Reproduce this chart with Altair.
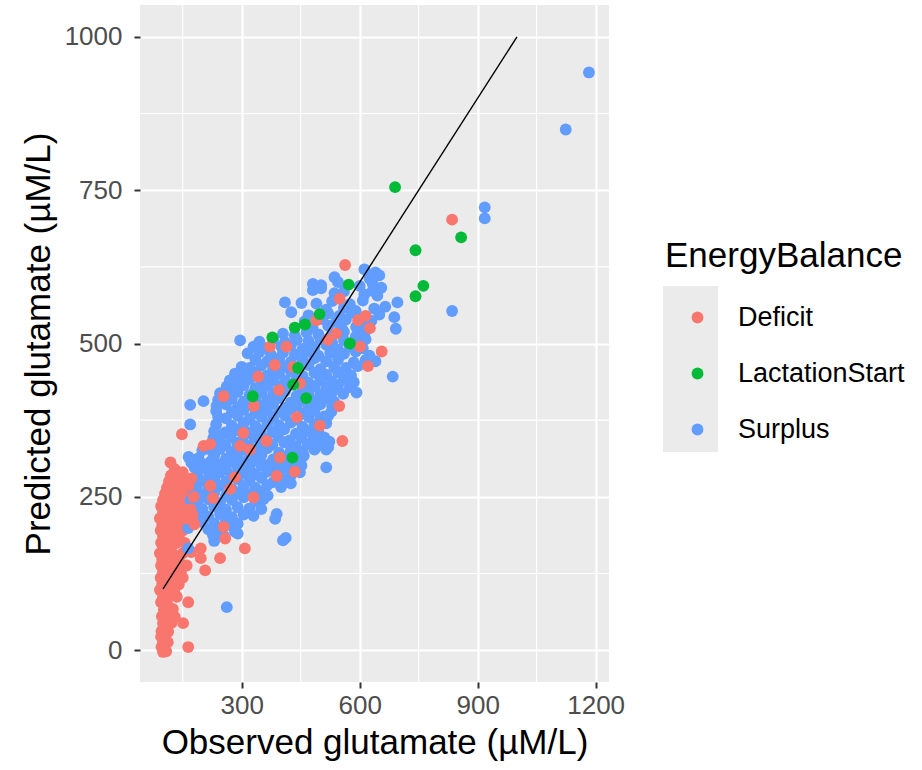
import altair as alt
import pandas as pd

# ---- data (observed, predicted) ----
deficit_cluster = [
    (100, -3), (108, -2), (96, 5), (164, 5), (100, 12), (112, 13), (105, 21), (95, 22), (96, 31), (113, 30),
    (100, 44), (121, 44), (151, 44), (97, 55), (115, 56), (130, 54), (102, 66), (125, 67), (95, 78), (110, 77),
    (164, 78), (100, 88), (118, 89), (135, 87), (92, 98), (108, 99), (128, 97), (98, 108), (115, 109), (140, 107),
    (94, 118), (112, 119), (130, 117), (150, 118), (100, 128), (120, 129), (145, 127), (207, 130),
    (95, 138), (110, 139), (130, 137), (160, 138), (98, 148), (118, 149), (140, 147), (196, 150), (245, 150),
    (92, 158), (108, 159), (125, 157), (150, 158), (172, 160), (100, 166), (120, 167), (196, 166),
    (95, 175), (112, 176), (132, 174), (155, 175), (100, 185), (118, 186), (140, 184),
    (94, 195), (110, 196), (128, 194), (150, 195), (98, 205), (115, 206), (135, 204), (160, 205),
    (92, 215), (108, 216), (125, 214), (145, 215), (100, 225), (118, 226), (138, 224), (165, 225),
    (95, 235), (112, 236), (130, 234), (150, 235), (100, 245), (120, 246), (140, 244), (170, 245),
    (105, 255), (125, 256), (150, 254), (110, 265), (132, 266), (152, 264), (115, 275), (140, 276), (160, 274),
    (120, 285), (145, 286), (130, 295), (119, 306), (148, 352),
]

deficit_scatter = [
    (835, 702), (563, 628), (549, 573), (596, 538), (626, 525), (601, 495), (656, 487), (621, 463),
    (548, 398), (556, 341), (499, 366), (440, 380), (395, 424), (397, 314), (435, 291), (372, 495),
    (384, 465), (342, 446), (331, 398), (254, 414), (490, 538), (431, 462), (448, 435), (540, 516),
    (414, 495), (304, 354), (296, 333), (321, 327), (363, 341), (389, 284), (330, 249), (271, 263),
    (220, 268), (203, 333), (220, 336), (308, 166), (258, 182), (254, 201), (615, 545), (227, 248),
    (283, 282), (519, 506),
    (160, 215), (170, 230), (178, 250), (165, 268), (172, 280), (150, 290), (180, 205), (175, 220),
]

surplus = [
    (612, 621), (640, 616), (536, 608), (625, 606), (650, 611),
    (481, 597), (502, 595), (545, 600), (600, 594), (633, 598),
    (481, 587), (502, 590), (633, 586), (655, 591),
    (536, 582), (560, 585), (612, 580), (645, 578),
    (410, 567), (452, 566), (490, 565), (530, 569), (575, 564), (608, 570), (696, 567),
    (515, 555), (560, 558), (590, 553), (637, 557), (665, 560),
    (426, 551), (470, 546), (520, 549), (548, 545), (580, 550), (616, 543), (650, 547),
    (460, 536), (505, 540), (540, 535), (565, 539), (600, 533), (630, 537), (688, 543),
    (480, 526), (520, 529), (555, 524), (591, 527), (620, 530), (692, 524),
    (405, 516), (435, 513), (465, 518), (495, 515), (527, 512), (560, 519), (590, 511), (612, 516),
    (296, 505), (345, 503), (380, 507), (410, 502), (440, 506), (470, 504), (500, 508), (530, 501),
    (560, 505), (590, 503), (615, 507),
    (330, 495), (360, 492), (401, 495), (425, 497), (455, 491), (485, 494), (515, 498), (545, 490),
    (575, 495), (608, 492),
    (315, 484), (345, 486), (375, 481), (405, 485), (435, 482), (465, 487), (495, 480), (525, 485),
    (560, 483), (590, 487), (625, 480),
    (335, 474), (365, 471), (395, 475), (425, 470), (455, 473), (485, 476), (515, 471), (545, 474),
    (585, 469), (615, 473), (640, 471),
    (300, 462), (320, 460), (350, 464), (380, 459), (412, 463), (440, 461), (470, 465), (500, 458),
    (535, 462), (565, 460), (595, 463),
    (283, 451), (305, 449), (335, 453), (365, 448), (395, 451), (425, 454), (455, 447), (485, 452),
    (515, 449), (545, 453), (578, 448), (684, 446),
    (270, 440), (292, 438), (320, 442), (350, 437), (380, 441), (410, 439), (440, 443), (470, 436),
    (500, 440), (530, 438), (560, 442), (585, 437),
    (262, 430), (280, 428), (305, 432), (335, 427), (365, 431), (395, 429), (425, 433), (455, 426),
    (485, 430), (515, 428), (545, 432), (575, 429), (592, 420),
    (245, 419), (262, 417), (290, 421), (320, 416), (350, 420), (380, 418), (410, 422), (440, 415),
    (470, 419), (500, 417), (530, 421), (558, 418),
    (203, 406), (240, 408), (275, 410), (305, 405), (335, 409), (365, 407), (395, 411), (425, 404),
    (455, 408), (485, 406), (515, 410), (535, 405),
    (169, 400), (236, 398), (260, 401), (290, 396), (320, 400), (350, 398), (380, 402), (410, 395),
    (440, 399), (470, 397), (500, 401), (530, 398),
    (235, 390), (275, 388), (305, 392), (335, 387), (365, 391), (395, 389), (425, 393), (455, 386),
    (485, 390), (510, 381), (528, 389),
    (240, 380), (260, 378), (290, 382), (320, 377), (350, 381), (380, 379), (410, 383), (440, 376),
    (470, 380), (500, 378), (520, 382),
    (169, 368), (235, 368), (275, 366), (305, 370), (335, 365), (365, 369), (395, 367), (425, 371),
    (455, 364), (485, 368), (515, 370),
    (230, 357), (258, 355), (288, 359), (318, 354), (348, 358), (378, 356), (408, 360), (438, 353),
    (468, 357), (495, 355),
    (228, 346), (243, 344), (272, 348), (302, 343), (332, 347), (362, 345), (392, 349), (422, 342),
    (452, 346), (482, 344), (510, 347), (523, 340),
    (225, 336), (258, 334), (288, 338), (318, 333), (348, 337), (378, 335), (408, 339), (438, 332),
    (468, 336), (498, 334), (520, 331),
    (200, 326), (225, 324), (245, 328), (275, 323), (305, 327), (335, 325), (365, 329), (395, 322),
    (425, 326), (455, 324), (485, 327), (515, 327),
    (165, 315), (190, 313), (230, 317), (260, 312), (290, 316), (320, 314), (350, 318), (380, 311),
    (410, 315), (440, 313), (458, 317),
    (172, 306), (200, 304), (222, 308), (245, 303), (275, 307), (305, 305), (335, 309), (365, 302),
    (395, 306), (425, 304), (452, 301),
    (180, 298), (210, 296), (232, 300), (260, 295), (290, 299), (320, 297), (350, 301), (380, 294),
    (410, 298), (440, 296), (515, 298),
    (188, 288), (218, 286), (245, 290), (275, 285), (305, 289), (335, 287), (365, 291), (395, 288),
    (425, 285), (448, 290),
    (178, 278), (200, 276), (230, 280), (260, 275), (290, 279), (320, 277), (350, 281), (380, 274),
    (410, 278), (425, 272),
    (185, 266), (215, 264), (245, 268), (275, 263), (305, 267), (335, 265), (365, 269), (400, 266),
    (178, 255), (200, 253), (230, 257), (260, 252), (290, 256), (320, 254), (350, 258), (366, 252),
    (170, 244), (188, 242), (215, 246), (245, 241), (275, 245), (305, 249), (335, 243), (355, 246),
    (180, 232), (200, 230), (230, 234), (260, 229), (290, 233), (320, 231), (350, 230), (389, 222),
    (190, 220), (215, 218), (245, 222), (275, 217), (305, 221), (330, 219), (385, 214),
    (200, 209), (230, 207), (260, 211), (290, 206), (270, 204),
    (164, 199), (215, 197), (245, 199), (283, 193), (227, 188),
    (255, 186), (290, 190), (412, 183), (405, 179),
    (230, 178), (228, 187), (164, 166), (262, 70),
    (835, 553), (918, 722), (918, 704), (1124, 849), (1183, 942),
]

lactation = [
    (690, 755), (858, 673), (742, 652), (762, 594), (742, 577), (572, 596), (498, 548), (435, 526),
    (461, 531), (378, 510), (328, 414), (429, 314), (443, 460), (575, 500), (431, 433), (464, 411),
]

groups = ["Deficit", "LactationStart", "Surplus"]
colors = ["#F8766D", "#00BA38", "#619CFF"]

x_ticks = [300, 600, 900, 1200]
y_ticks = [0, 250, 500, 750, 1000]
x_minor = [150, 450, 750, 1050]
y_minor = [125, 375, 625, 875]
identity_line = [100, 1000]

rows = []
for grp, pts in [("Deficit", deficit_cluster), ("Surplus", surplus),
                 ("Deficit", deficit_scatter), ("LactationStart", lactation)]:
    for o, p in pts:
        rows.append({"obs": o, "pred": p, "EnergyBalance": grp})
df = pd.DataFrame(rows)

line_df = pd.DataFrame({"obs": identity_line, "pred": identity_line})

FONT = "Liberation Sans"

xscale = alt.Scale(domain=[41.4, 1234], nice=False, zero=False)
yscale = alt.Scale(domain=[-52, 1052], nice=False, zero=False)

xaxis = alt.Axis(values=x_ticks, format="d", title="Observed glutamate (µM/L)", grid=True,
                 gridColor="white", gridWidth=2.2, domain=False,
                 tickColor="#333333", tickWidth=2, tickSize=6,
                 labelFontSize=26, labelColor="#4D4D4D", labelPadding=4,
                 titleFontSize=35, titleColor="black", titleFontWeight="normal",
                 titlePadding=7, labelFont=FONT, titleFont=FONT)
yaxis = alt.Axis(values=y_ticks, format="d", title="Predicted glutamate (µM/L)", grid=True,
                 gridColor="white", gridWidth=2.2, domain=False,
                 tickColor="#333333", tickWidth=2, tickSize=6,
                 labelFontSize=26, labelColor="#4D4D4D", labelPadding=12,
                 titleFontSize=35, titleColor="black", titleFontWeight="normal",
                 titlePadding=8, labelFont=FONT, titleFont=FONT)

xminor_layer = alt.Chart(pd.DataFrame({"obs": x_minor})).mark_rule(
    color="white", strokeWidth=1.1
).encode(x=alt.X("obs:Q", scale=xscale, axis=xaxis))

yminor_layer = alt.Chart(pd.DataFrame({"pred": y_minor})).mark_rule(
    color="white", strokeWidth=1.1
).encode(y=alt.Y("pred:Q", scale=yscale, axis=yaxis))

points = alt.Chart(df).mark_circle(size=140, opacity=1).encode(
    x=alt.X("obs:Q", scale=xscale, axis=xaxis),
    y=alt.Y("pred:Q", scale=yscale, axis=yaxis),
    color=alt.Color("EnergyBalance:N",
                    scale=alt.Scale(domain=groups, range=colors),
                    legend=alt.Legend(title="EnergyBalance", orient="none",
                                      legendX=525, legendY=234,
                                      titleFontSize=35, titleFont=FONT, titleColor="black",
                                      titleFontWeight="normal", titlePadding=30, titleLimit=500,
                                      labelFontSize=27, labelFont=FONT, labelColor="black",
                                      labelLimit=500,
                                      labelOffset=27, symbolSize=140, symbolType="circle",
                                      symbolOffset=19, symbolStrokeWidth=0, rowPadding=28,
                                      padding=0)),
)

line = alt.Chart(line_df).mark_line(color="black", strokeWidth=1.4).encode(
    x=alt.X("obs:Q", scale=xscale, axis=xaxis),
    y=alt.Y("pred:Q", scale=yscale, axis=yaxis),
)

key_bg = alt.Chart(pd.DataFrame({"k": [0]})).mark_rect(color="#EBEBEB").encode(
    x=alt.value(523), x2=alt.value(578), y=alt.value(281), y2=alt.value(447)
)

chart = alt.layer(xminor_layer, yminor_layer, points, line, key_bg).properties(
    width=469, height=677,
    padding={"left": 140, "top": 5, "right": 313, "bottom": 88},
    autosize=alt.AutoSizeParams(type="none"),
).configure(font=FONT, background="white").configure_view(
    fill="#EBEBEB", stroke=None, strokeWidth=0
)

chart.save("out.html", embed_options={"renderer": "svg", "actions": False})
